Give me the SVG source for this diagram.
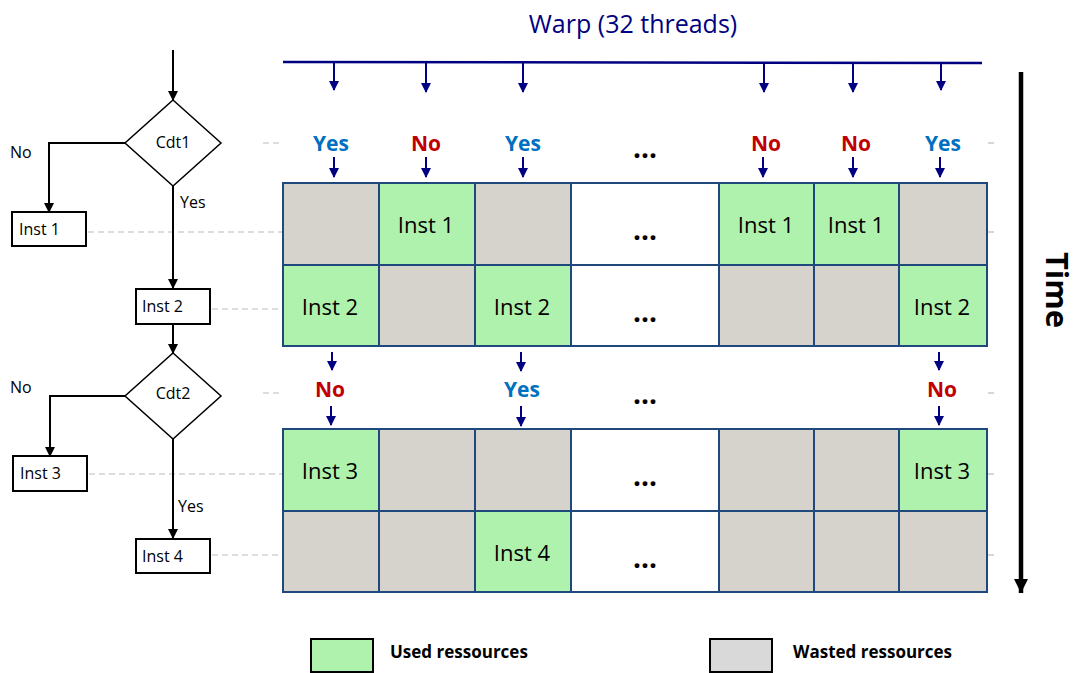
<svg xmlns="http://www.w3.org/2000/svg" width="1078" height="673" viewBox="0 0 1078 673">
<style>
text{font-family:"Open Sans","Liberation Sans",sans-serif}
.fl{fill:none;stroke:#000;stroke-width:2}
.box{fill:#fff;stroke:#000;stroke-width:2}
.dia{fill:#fff;stroke:#000;stroke-width:1.5}
.ft{font-size:16px;fill:#000}
.dash{stroke:#bbb;stroke-width:1.2;stroke-dasharray:6 4}
.g{fill:#AEF2AE;stroke:#1F497D;stroke-width:2}
.w{fill:#D6D3CD;stroke:#1F497D;stroke-width:2}
.e{fill:#fff;stroke:#1F497D;stroke-width:2}
.ct{font-size:22px;fill:#000;text-anchor:middle}
.dots{font-size:28px;fill:#000;text-anchor:middle;font-weight:bold}
.yes{font-size:21px;font-weight:bold;fill:#0070C0;text-anchor:middle}
.no{font-size:21px;font-weight:bold;fill:#C00000;text-anchor:middle}
.na{stroke:#000080;stroke-width:2}
.lg{font-size:17px;font-weight:bold;fill:#000}
</style>
<defs>
<marker id="ab" markerWidth="10" markerHeight="10" refX="9" refY="5" orient="auto" markerUnits="userSpaceOnUse"><path d="M0,0 L10,5 L0,10 z" fill="#000"/></marker>
<marker id="an" markerWidth="10" markerHeight="10" refX="9" refY="5" orient="auto" markerUnits="userSpaceOnUse"><path d="M0,0 L10,5 L0,10 z" fill="#000080"/></marker>
<marker id="at" markerWidth="16" markerHeight="16" refX="14" refY="7" orient="auto" markerUnits="userSpaceOnUse"><path d="M0,0 L14,7 L0,14 z" fill="#000"/></marker>
</defs>

<!-- dashed guide lines -->
<g id="guides">
<line class="dash" x1="263" y1="143" x2="281" y2="143"/>
<line class="dash" x1="988" y1="143" x2="996" y2="143"/>
<line class="dash" x1="88" y1="232" x2="283" y2="232"/>
<line class="dash" x1="988" y1="232" x2="996" y2="232"/>
<line class="dash" x1="212" y1="309" x2="283" y2="309"/>
<line class="dash" x1="263" y1="393" x2="281" y2="393"/>
<line class="dash" x1="988" y1="393" x2="996" y2="393"/>
<line class="dash" x1="89" y1="474" x2="283" y2="474"/>
<line class="dash" x1="988" y1="474" x2="996" y2="474"/>
<line class="dash" x1="212" y1="555" x2="283" y2="555"/>
<line class="dash" x1="988" y1="555" x2="996" y2="555"/>
</g>

<!-- flowchart connectors -->
<g id="connectors">
<line class="fl" x1="173" y1="50" x2="173" y2="100" marker-end="url(#ab)"/>
<polyline class="fl" points="125,143 49,143 49,212" marker-end="url(#ab)"/>
<line class="fl" x1="173" y1="186" x2="173" y2="288" marker-end="url(#ab)"/>
<line class="fl" x1="173" y1="325" x2="173" y2="353" marker-end="url(#ab)"/>
<polyline class="fl" points="125,396 50,396 50,456" marker-end="url(#ab)"/>
<line class="fl" x1="173" y1="439" x2="173" y2="538" marker-end="url(#ab)"/>
<text class="ft" x="10" y="158">No</text>
<text class="ft" x="180" y="208">Yes</text>
<text class="ft" x="10" y="393">No</text>
<text class="ft" x="178" y="512">Yes</text>
</g>

<g id="cdt1"><polygon class="dia" points="173,100 221,143 173,186 125,143"/><text class="ft" x="173" y="148" text-anchor="middle">Cdt1</text></g>
<g id="inst1"><rect class="box" x="12" y="212" width="74" height="34"/><text class="ft" x="19" y="235">Inst 1</text></g>
<g id="inst2"><rect class="box" x="136" y="289" width="74" height="35"/><text class="ft" x="142" y="312">Inst 2</text></g>
<g id="cdt2"><polygon class="dia" points="173,353 221,396 173,439 125,396"/><text class="ft" x="173" y="399" text-anchor="middle">Cdt2</text></g>
<g id="inst3"><rect class="box" x="13" y="456" width="74" height="35"/><text class="ft" x="20" y="479">Inst 3</text></g>
<g id="inst4"><rect class="box" x="136" y="539" width="74" height="34"/><text class="ft" x="142" y="562">Inst 4</text></g>

<!-- warp -->
<g id="warp">
<text x="633" y="33" font-size="25" fill="#000080" text-anchor="middle">Warp (32 threads)</text>
<line x1="283" y1="62" x2="982" y2="63" stroke="#000080" stroke-width="2.5"/>
<line class="na" x1="334" y1="62" x2="334" y2="90" marker-end="url(#an)"/>
<line class="na" x1="426" y1="62" x2="426" y2="92" marker-end="url(#an)"/>
<line class="na" x1="523" y1="63" x2="523" y2="92" marker-end="url(#an)"/>
<line class="na" x1="764" y1="63" x2="764" y2="92" marker-end="url(#an)"/>
<line class="na" x1="853" y1="63" x2="853" y2="92" marker-end="url(#an)"/>
<line class="na" x1="941" y1="63" x2="941" y2="90" marker-end="url(#an)"/>
</g>

<g id="cond1">
<text class="yes" x="331" y="151">Yes</text>
<text class="no" x="426" y="151">No</text>
<text class="yes" x="523" y="151">Yes</text>
<text class="dots" x="645" y="158">...</text>
<text class="no" x="766" y="151">No</text>
<text class="no" x="856" y="151">No</text>
<text class="yes" x="943" y="151">Yes</text>
<line class="na" x1="334" y1="157" x2="334" y2="177" marker-end="url(#an)"/>
<line class="na" x1="426" y1="157" x2="426" y2="177" marker-end="url(#an)"/>
<line class="na" x1="523" y1="157" x2="523" y2="177" marker-end="url(#an)"/>
<line class="na" x1="763" y1="157" x2="763" y2="177" marker-end="url(#an)"/>
<line class="na" x1="853" y1="157" x2="853" y2="177" marker-end="url(#an)"/>
<line class="na" x1="940" y1="157" x2="940" y2="177" marker-end="url(#an)"/>
</g>

<!-- grid 1 -->
<g id="grid1">
<rect class="w" x="283" y="183" width="96" height="82"/>
<rect class="g" x="379" y="183" width="96" height="82"/>
<rect class="w" x="475" y="183" width="96" height="82"/>
<rect class="e" x="571" y="183" width="148" height="82"/>
<rect class="g" x="719" y="183" width="95" height="82"/>
<rect class="g" x="814" y="183" width="85" height="82"/>
<rect class="w" x="899" y="183" width="88" height="82"/>
<rect class="g" x="283" y="265" width="96" height="81"/>
<rect class="w" x="379" y="265" width="96" height="81"/>
<rect class="g" x="475" y="265" width="96" height="81"/>
<rect class="e" x="571" y="265" width="148" height="81"/>
<rect class="w" x="719" y="265" width="95" height="81"/>
<rect class="w" x="814" y="265" width="85" height="81"/>
<rect class="g" x="899" y="265" width="88" height="81"/>
<text class="ct" x="426" y="233">Inst 1</text>
<text class="ct" x="766" y="233">Inst 1</text>
<text class="ct" x="856" y="233">Inst 1</text>
<text class="ct" x="330" y="315">Inst 2</text>
<text class="ct" x="522" y="315">Inst 2</text>
<text class="ct" x="942" y="315">Inst 2</text>
<text class="dots" x="645" y="240">...</text>
<text class="dots" x="645" y="322">...</text>
</g>

<g id="cond2">
<line class="na" x1="332" y1="352" x2="332" y2="370" marker-end="url(#an)"/>
<line class="na" x1="521" y1="352" x2="521" y2="371" marker-end="url(#an)"/>
<line class="na" x1="939" y1="352" x2="939" y2="370" marker-end="url(#an)"/>
<text class="no" x="330" y="397">No</text>
<text class="yes" x="522" y="397">Yes</text>
<text class="dots" x="645" y="404">...</text>
<text class="no" x="942" y="397">No</text>
<line class="na" x1="331" y1="406" x2="331" y2="425" marker-end="url(#an)"/>
<line class="na" x1="521" y1="406" x2="521" y2="426" marker-end="url(#an)"/>
<line class="na" x1="939" y1="406" x2="939" y2="425" marker-end="url(#an)"/>
</g>

<!-- grid 2 -->
<g id="grid2">
<rect class="g" x="283" y="429" width="96" height="82"/>
<rect class="w" x="379" y="429" width="96" height="82"/>
<rect class="w" x="475" y="429" width="96" height="82"/>
<rect class="e" x="571" y="429" width="148" height="82"/>
<rect class="w" x="719" y="429" width="95" height="82"/>
<rect class="w" x="814" y="429" width="85" height="82"/>
<rect class="g" x="899" y="429" width="88" height="82"/>
<rect class="w" x="283" y="511" width="96" height="81"/>
<rect class="w" x="379" y="511" width="96" height="81"/>
<rect class="g" x="475" y="511" width="96" height="81"/>
<rect class="e" x="571" y="511" width="148" height="81"/>
<rect class="w" x="719" y="511" width="95" height="81"/>
<rect class="w" x="814" y="511" width="85" height="81"/>
<rect class="w" x="899" y="511" width="88" height="81"/>
<text class="ct" x="330" y="479">Inst 3</text>
<text class="ct" x="942" y="479">Inst 3</text>
<text class="ct" x="522" y="561">Inst 4</text>
<text class="dots" x="645" y="486">...</text>
<text class="dots" x="645" y="568">...</text>
</g>

<!-- time -->
<g id="time">
<line x1="1021" y1="72" x2="1021" y2="593" stroke="#000" stroke-width="4.5" marker-end="url(#at)"/>
<text transform="translate(1046,290) rotate(90)" font-size="31" font-weight="bold" fill="#000" text-anchor="middle">Time</text>
</g>

<!-- legend -->
<g id="legend-used"><rect x="311" y="639" width="62" height="33" fill="#AEF2AE" stroke="#000" stroke-width="2"/><text class="lg" x="390" y="658">Used ressources</text></g>
<g id="legend-wasted"><rect x="710" y="639" width="62" height="33" fill="#D9D9D9" stroke="#000" stroke-width="2"/><text class="lg" x="793" y="658">Wasted ressources</text></g>
</svg>
